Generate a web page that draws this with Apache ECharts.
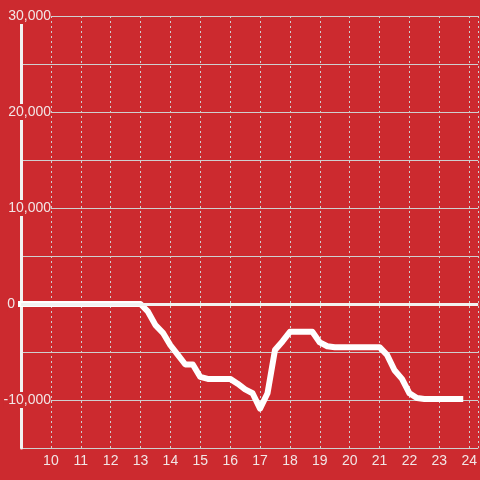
<!DOCTYPE html>
<html>
<head>
<meta charset="utf-8">
<script src="https://cdn.jsdelivr.net/npm/echarts@6/dist/echarts.min.js"></script>
<style>
  html, body { margin: 0; padding: 0; background: #cc2a2f; }
  #chart { width: 480px; height: 480px; }
</style>
</head>
<body>
<div id="chart"></div>
<script>
// hours of the day (x) and running value (y)
const hours = [
  9, 10, 11, 12, 13, 13.25, 13.5, 13.75, 14, 14.25, 14.5, 14.75, 15,
  15.25, 15.5, 15.75, 16, 16.25, 16.5, 16.75, 17, 17.25, 17.5, 17.75,
  18, 18.25, 18.5, 18.75, 19, 19.25, 19.5, 20, 20.5, 21, 21.25, 21.5,
  21.75, 22, 22.25, 22.5, 23, 23.5, 23.7
];
const values = [
  0, 0, 0, 0, 0, -800, -2200, -3000, -4300, -5300, -6300, -6300, -7600,
  -7800, -7800, -7800, -7800, -8300, -8900, -9300, -10900, -9300, -4800, -3900,
  -2900, -2900, -2900, -2900, -4000, -4400, -4500, -4500, -4500, -4500, -5300, -6900,
  -7800, -9300, -9800, -9900, -9900, -9900, -9900
];
const labeledTicks = [-10000, 0, 10000, 20000, 30000];

const bg = '#cc2a2f';
const textColor = '#f2e6e6';
const gridColor = '#cfcfcf';

const chart = echarts.init(document.getElementById('chart'));
chart.setOption({
  backgroundColor: bg,
  animation: false,
  grid: { left: 21, right: 0, top: 16, bottom: 32, containLabel: false },
  xAxis: {
    type: 'value',
    min: 9,
    max: 24.3,
    interval: 1,
    axisLine: { show: false },
    axisTick: { show: false },
    axisLabel: {
      color: textColor,
      fontSize: 14,
      margin: 6,
      showMinLabel: false,
      showMaxLabel: false,
      formatter: v => (Number.isInteger(v) ? String(v) : '')
    },
    splitLine: { show: true, lineStyle: { color: gridColor, type: [2, 3], width: 1 } }
  },
  yAxis: {
    type: 'value',
    min: -15000,
    max: 30000,
    interval: 5000,
    axisLine: { show: true, lineStyle: { color: '#f2f2f2', width: 3 } },
    axisTick: { show: false },
    axisLabel: {
      color: textColor,
      fontSize: 14,
      margin: -30,
      formatter: v => {
        if (labeledTicks.indexOf(v) < 0) return '';
        if (v === 0) return '{n|0}{gap|}';
        return '{n|' + v.toLocaleString('en-US') + '}';
      },
      rich: {
        n: { color: textColor, fontSize: 14, backgroundColor: bg, padding: [1, 0] },
        gap: { width: 36 }
      }
    },
    splitLine: { show: true, lineStyle: { color: gridColor, width: 1 } }
  },
  series: [{
    type: 'line',
    data: hours.map((h, i) => [h, values[i]]),
    showSymbol: false,
    clip: false,
    lineStyle: { color: '#ffffff', width: 6, join: 'round', cap: 'square' },
    markLine: {
      silent: true,
      symbol: 'none',
      label: { show: false },
      lineStyle: { color: '#f2f2f2', width: 3, type: 'solid' },
      data: [{ yAxis: 0 }]
    },
    z: 3
  }]
});
</script>
</body>
</html>
